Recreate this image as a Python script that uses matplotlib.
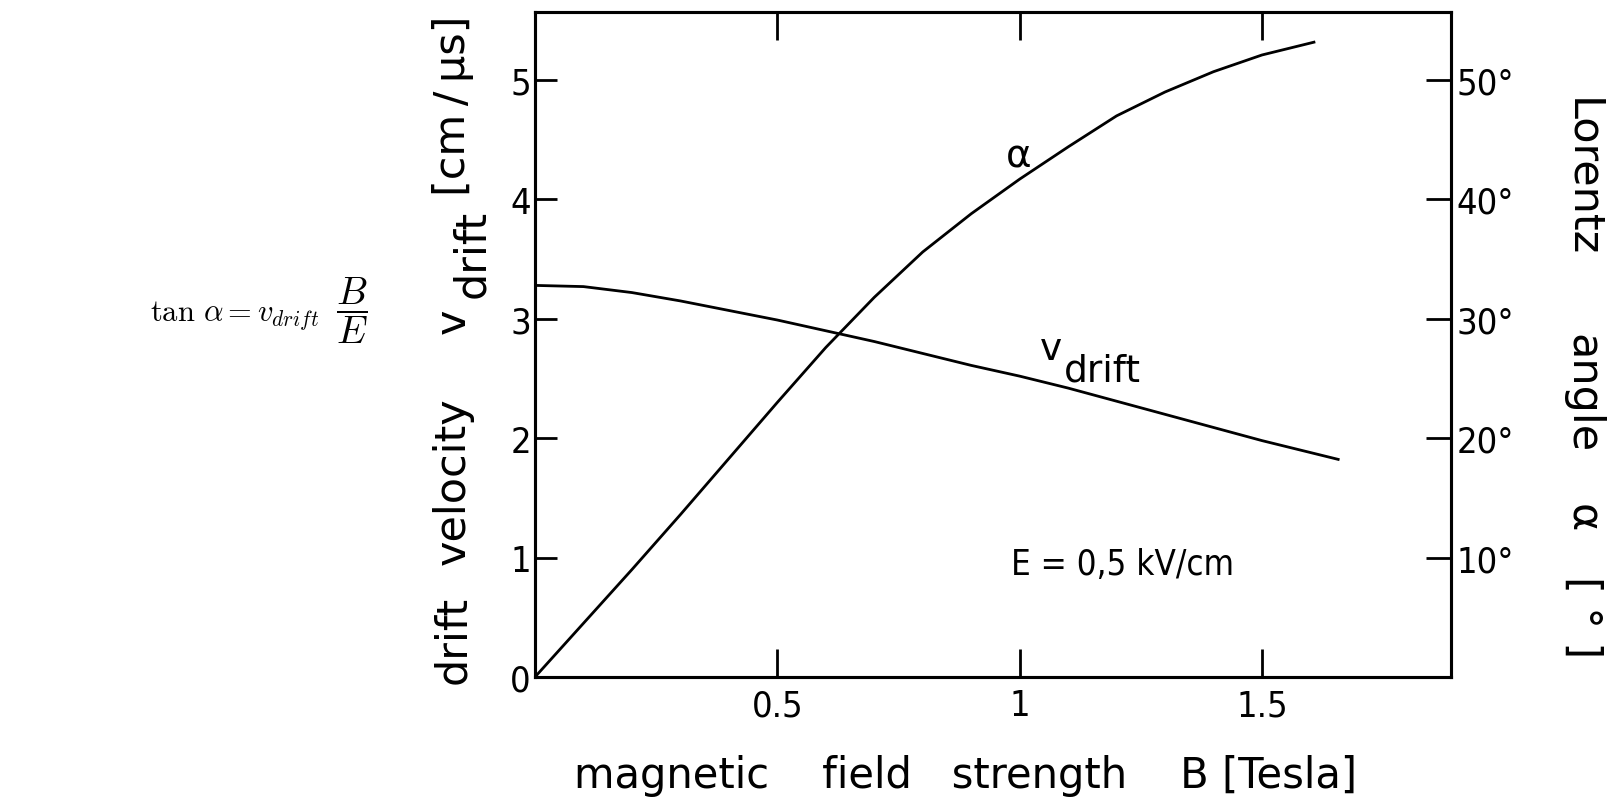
import matplotlib
matplotlib.use('Agg')
import matplotlib.pyplot as plt
from matplotlib import font_manager
from matplotlib.font_manager import FontProperties

# ---------------- data ----------------
B_alpha = [0.00, 0.10, 0.20, 0.30, 0.40, 0.50, 0.60, 0.70, 0.80, 0.90,
           1.00, 1.10, 1.20, 1.30, 1.40, 1.50, 1.61]
alpha_deg = [0.0, 4.5, 9.0, 13.6, 18.3, 23.0, 27.6, 31.8, 35.6, 38.8,
             41.7, 44.4, 47.0, 49.0, 50.7, 52.1, 53.2]

B_vdrift = [0.00, 0.10, 0.20, 0.30, 0.40, 0.50, 0.60, 0.70, 0.80, 0.90,
            1.00, 1.10, 1.20, 1.30, 1.40, 1.50, 1.60, 1.66]
v_drift = [3.28, 3.27, 3.22, 3.15, 3.07, 2.99, 2.90, 2.81, 2.71, 2.61,
           2.52, 2.42, 2.31, 2.20, 2.09, 1.98, 1.88, 1.82]

x_ticks = [0.5, 1.0, 1.5]
x_tick_labels = ['0.5', '1', '1.5']
y_ticks = [0, 1, 2, 3, 4, 5]
y_tick_labels = ['0', '1', '2', '3', '4', '5']
a_ticks = [10, 20, 30, 40, 50]
a_tick_labels = ['10°', '20°', '30°', '40°', '50°']

# ---------------- fonts ----------------
has_cond = any(f.name == 'DejaVu Sans' and 'ondensed' in f.fname
               for f in font_manager.fontManager.ttflist)
plt.rcParams['font.family'] = ['DejaVu Sans']


def fp(size, cond=False):
    return FontProperties(family='DejaVu Sans', size=size,
                          stretch='condensed' if (cond and has_cond) else 'normal')


W, H = 1614, 803
fig = plt.figure(figsize=(W / 100, H / 100), dpi=100)


def px(x, y):
    return (x / W, 1 - y / H)


ax = fig.add_axes([535 / W, 1 - 678 / H, (1451 - 535) / W, (678 - 13) / H])

LW = 2.0
ax.plot(B_vdrift, v_drift, color='black', lw=LW, solid_capstyle='butt')
ax.set_xlim(0, 1.89)
ax.set_ylim(0, 5.57)

ax2 = ax.twinx()
ax2.plot(B_alpha, alpha_deg, color='black', lw=LW, solid_capstyle='butt')
ax2.set_ylim(0, 55.7)

for a in (ax, ax2):
    for s in a.spines.values():
        s.set_linewidth(2.2)

tick_fp = fp(26, cond=True)
ax.set_xticks(x_ticks)
ax.set_xticklabels(x_tick_labels, fontproperties=tick_fp)
ax.set_yticks(y_ticks)
ax.set_yticklabels(y_tick_labels, fontproperties=tick_fp)
ax.tick_params(axis='x', direction='in', length=20, width=2.0, pad=8,
               top=True)
ax.tick_params(axis='y', direction='in', length=16, width=2.0, pad=3)
ax2.set_yticks(a_ticks)
ax2.set_yticklabels(a_tick_labels, fontproperties=tick_fp)
ax2.tick_params(axis='y', direction='in', length=18, width=2.0, pad=4)

# ---------------- axis titles ----------------
LBL = 31
rot_kw = dict(rotation_mode='anchor', ha='left', va='baseline')
# left label, built from pieces (subscript nearly full size in the original)
fig.text(*px(465, 684), 'drift', rotation=90, fontproperties=fp(LBL), **rot_kw)
fig.text(*px(465, 565), 'velocity', rotation=90, fontproperties=fp(LBL), **rot_kw)
fig.text(*px(465, 334), 'v', rotation=90, fontproperties=fp(LBL), **rot_kw)
fig.text(*px(484, 298), 'drift', rotation=90, fontproperties=fp(LBL), **rot_kw)
fig.text(*px(465, 196), '[cm\u2009/\u2009µs]', rotation=90, fontproperties=fp(LBL), **rot_kw)

# right label
fig.text(*px(1570, 98), 'Lorentz', rotation=-90, fontproperties=fp(LBL), **rot_kw)
fig.text(*px(1570, 334), 'angle', rotation=-90, fontproperties=fp(LBL), **rot_kw)
fig.text(*px(1570, 504), 'α', rotation=-90, fontproperties=fp(LBL), **rot_kw)
fig.text(*px(1570, 576), '[ ° ]', rotation=-90, fontproperties=fp(LBL), **rot_kw)

# bottom label
fig.text(*px(966, 788), 'magnetic    field   strength    B [Tesla]',
         ha='center', va='baseline', fontproperties=fp(30))

# ---------------- in-plot annotations ----------------
ax.text(0.999, 4.37, 'α', ha='center', va='center', fontproperties=fp(28))
ax.text(1.042, 2.660, 'v', ha='left', va='baseline', fontproperties=fp(27))
ax.text(1.092, 2.480, 'drift', ha='left', va='baseline', fontproperties=fp(27))
ax.text(1.442, 0.95, 'E = 0,5 kV/cm', ha='right', va='center',
        fontproperties=fp(25, cond=True))

# ---------------- formula ----------------
fig.text(*px(150, 321), r'$\tan\,\alpha = v_{drift}$', ha='left', va='baseline',
         fontsize=22, math_fontfamily='cm')
fig.text(*px(352, 311), r'$\dfrac{B}{E}$', ha='center', va='center',
         fontsize=28, math_fontfamily='cm')

fig.savefig('out.png', dpi=100)
